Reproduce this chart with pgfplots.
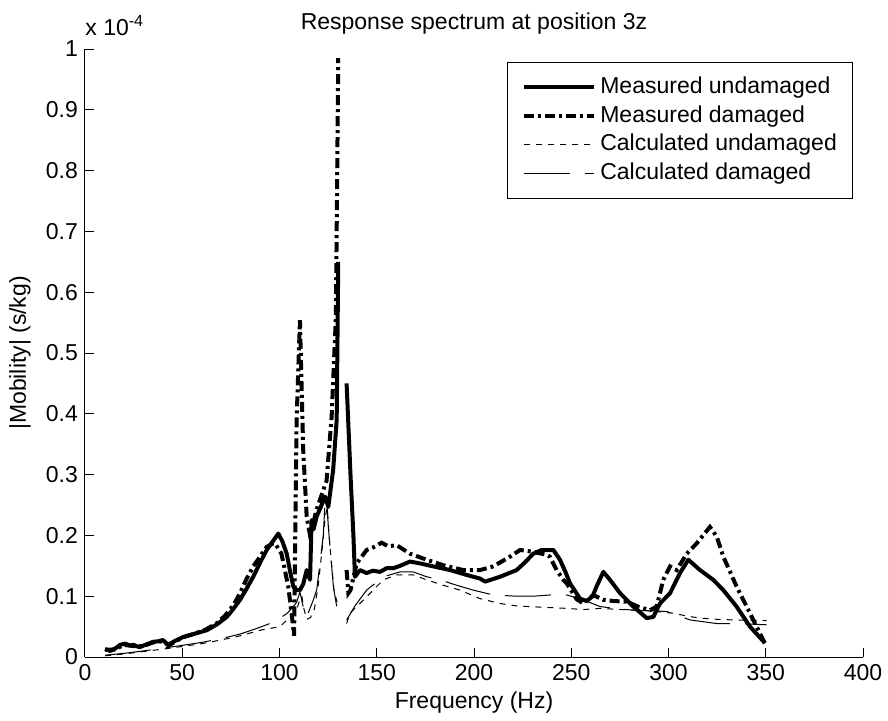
\documentclass[border=0pt]{standalone}
\usepackage{pgfplots}
\pgfplotsset{compat=1.18}
\usepackage{fontspec}
\setmainfont{Liberation Sans}
\newcommand{\ff}{\fontsize{11.5pt}{13.5pt}\selectfont}

\begin{document}
\begin{tikzpicture}
\path[use as bounding box] (-42.5pt,-31.5pt) rectangle (401.5pt,328.5pt);
\begin{axis}[
  at={(0pt,0pt)}, anchor=south west,
  scale only axis,
  width=389pt, height=304pt,
  xmin=0, xmax=400, ymin=0, ymax=1,
  axis x line=bottom, axis y line=left,
  axis line style={-, line width=0.5pt, black},
  tick align=inside,
  major tick length=4.5pt,
  tick style={line width=0.5pt, black},
  xtick={0,50,...,400},
  ytick={0,0.1,...,1.0},
  yticklabels={0,0.1,0.2,0.3,0.4,0.5,0.6,0.7,0.8,0.9,1},
  /pgf/number format/assume math mode=true,
  tick label style={font=\ff},
  every axis title/.style={font=\ff, at={(rel axis cs:0.5,1)}, anchor=base, yshift=10pt},
  title={Response spectrum at position 3z},
  xlabel={Frequency (Hz)},
  ylabel={|Mobility| (s/kg)},
  every axis x label/.style={font=\ff, at={(rel axis cs:0.5,0)}, anchor=center, yshift=-23pt},
  every axis y label/.style={font=\ff, at={(rel axis cs:-0.0835,0.5)}, anchor=center, rotate=90},
  unbounded coords=jump,
  legend cell align=left,
  legend style={at={(rel axis cs:0.987,0.979)}, anchor=north east,
    draw=black, line width=0.5pt, fill=white,
    font=\ff,
    inner xsep=7pt, inner ysep=5.5pt,
    nodes={inner xsep=0.75pt, inner ysep=1.5pt, text height=8.5pt, text depth=2.5pt},
    /tikz/every odd column/.append style={column sep=1.5pt},
    row sep=0.4pt},
  legend image code/.code={\draw[#1] (0pt,0pt) -- (35pt,0pt);},
]
% Measured undamaged
\addplot[black, line width=2pt, line join=round] coordinates {
(10.3,0.013) (13,0.010) (16,0.015) (18,0.020) (20.6,0.022) (23,0.019) (25,0.020) (28,0.016) (31,0.020) (35,0.025) (38,0.026) (40,0.028) (42.8,0.020) (46,0.026) (50.5,0.033) (56,0.038) (62.6,0.044) (68,0.054) (72.9,0.066) (76,0.078) (79.7,0.094) (83,0.112) (86.5,0.132) (90,0.155) (93.4,0.176) (96.5,0.190) (99.4,0.203) (101.5,0.190) (103.7,0.170) (105.5,0.140) (107.1,0.116) (108.8,0.110) (110.5,0.110) (112.2,0.120) (114,0.143) (115.7,0.127) (116.5,0.225) (117.5,0.210) (119.1,0.231) (121,0.245) (123.4,0.264) (125.1,0.247) (127.6,0.308) (129.4,0.390) (130.2,0.650)
(nan,nan)
(134.5,0.450) (136.5,0.300) (138,0.200) (138.8,0.132) (141.4,0.143) (144.8,0.138) (148,0.142) (151.7,0.140) (155,0.146) (158.5,0.146) (162,0.150) (167.1,0.157) (172.2,0.154) (179.1,0.149) (187.7,0.143) (196.2,0.135) (203.1,0.129) (205.7,0.124) (213.4,0.132) (221.9,0.143) (226,0.155) (230.5,0.170) (234.8,0.176) (240.8,0.176) (244.2,0.160) (247,0.140) (249.4,0.121) (254.5,0.096) (257.9,0.092) (261,0.100) (263,0.116) (266.5,0.140) (269.9,0.127) (275.1,0.105) (281.9,0.083) (288.8,0.064) (292.2,0.066) (295.6,0.088) (300.8,0.105) (305.9,0.138) (310.2,0.160) (316.2,0.143) (323,0.127) (328.2,0.110) (335,0.083) (341.9,0.050) (349.6,0.023)
};
\addlegendentry{Measured undamaged}
% Measured damaged
\addplot[black, line width=2pt, dash pattern=on 5pt off 2pt on 1.5pt off 2pt] coordinates {
(10.3,0.012) (15,0.012) (20,0.020) (25,0.018) (30,0.018) (35,0.024) (40,0.026) (43,0.019) (50,0.032) (56,0.038) (62,0.045) (68,0.056) (72,0.068) (76.3,0.085) (79.7,0.105) (83,0.128) (86.5,0.149) (90,0.165) (93.4,0.181) (96.8,0.187) (97.7,0.187) (101,0.170) (104.5,0.116) (106.2,0.072) (107.5,0.035) (108.8,0.390) (110.5,0.554) (112.2,0.340) (114,0.230) (115.7,0.200) (117,0.215) (119,0.242) (121.5,0.265) (124.2,0.290) (126.8,0.395) (129,0.560) (130.2,0.985)
(nan,nan)
(134.5,0.143) (135.4,0.105) (136.5,0.110) (139.7,0.154) (144.8,0.176) (148,0.180) (152.5,0.188) (156,0.182) (160.2,0.184) (167.1,0.170) (175.6,0.160) (184.2,0.151) (194.5,0.143) (203.1,0.143) (209.9,0.149) (218.5,0.165) (223.7,0.176) (230.5,0.173) (237.4,0.168) (239,0.165) (242.5,0.143) (245.9,0.127) (247.7,0.121) (252.8,0.095) (256.2,0.088) (261.3,0.102) (266.5,0.094) (272,0.092) (278.5,0.091) (285,0.082) (290.5,0.077) (293.9,0.083) (297.3,0.127) (300.8,0.149) (304.2,0.143) (309.4,0.170) (314.5,0.187) (321.3,0.214) (324.8,0.198) (328.2,0.165) (335,0.116) (341.9,0.072) (349.6,0.022)
};
\addlegendentry{Measured damaged}
% Calculated undamaged
\addplot[black, line width=0.5pt, dash pattern=on 3pt off 3pt] coordinates {
(10.3,0.002) (20,0.005) (30,0.009) (45,0.015) (60,0.022) (70,0.028) (80,0.035) (90,0.044) (100.3,0.050) (105.4,0.066) (108.8,0.077) (110,0.090) (111.5,0.100) (112.5,0.080) (114,0.062) (116,0.065) (118,0.080) (120,0.120) (122,0.180) (123.5,0.230) (124.5,0.245) (126,0.180) (128,0.110) (130,0.085) (131.1,0.083)
(nan,nan)
(134.5,0.055) (136.2,0.072) (144.8,0.099) (153.4,0.127) (160.2,0.135) (168.8,0.135) (175.6,0.127) (184.2,0.118) (192.8,0.110) (203.1,0.096) (213.4,0.088) (222,0.084) (234,0.082) (247.7,0.080) (256.2,0.078) (264.8,0.080) (281.9,0.077) (290,0.076) (302.5,0.072) (310,0.067) (316.2,0.064) (325,0.062) (333.3,0.061) (350.5,0.060)
};
\addlegendentry{Calculated undamaged}
% Calculated damaged
\addplot[black, line width=0.5pt, dash pattern=on 23pt off 7.5pt] coordinates {
(10.3,0.003) (20,0.006) (30,0.010) (45.4,0.017) (60,0.024) (71.1,0.031) (80,0.038) (88.3,0.047) (95,0.055) (100.3,0.064) (104,0.072) (107.1,0.083) (108.8,0.090) (110.5,0.107) (112,0.085) (113.1,0.072) (114,0.066) (117.4,0.094) (119.1,0.110) (120.8,0.154) (122.5,0.200) (123.4,0.253) (124.2,0.264) (125.1,0.214) (127.7,0.116) (129.4,0.083) (130.2,0.075)
(nan,nan)
(134.5,0.061) (139,0.085) (144.8,0.110) (153.4,0.132) (162,0.140) (168.8,0.140) (175.6,0.132) (182.5,0.127) (191.1,0.118) (199.6,0.110) (210,0.102) (222,0.100) (230.5,0.100) (239,0.102) (247.7,0.102) (256.2,0.094) (264.8,0.083) (272,0.080) (281.9,0.077) (290,0.076) (299,0.075) (305,0.068) (311,0.061) (318,0.058) (324.8,0.055) (335,0.055) (343,0.054) (350.5,0.053)
};
\addlegendentry{Calculated damaged}
\end{axis}
\node[anchor=base west, inner sep=0pt, font=\ff] at (0pt,311pt) {x 10\textsuperscript{-4}};
\end{tikzpicture}
\end{document}
